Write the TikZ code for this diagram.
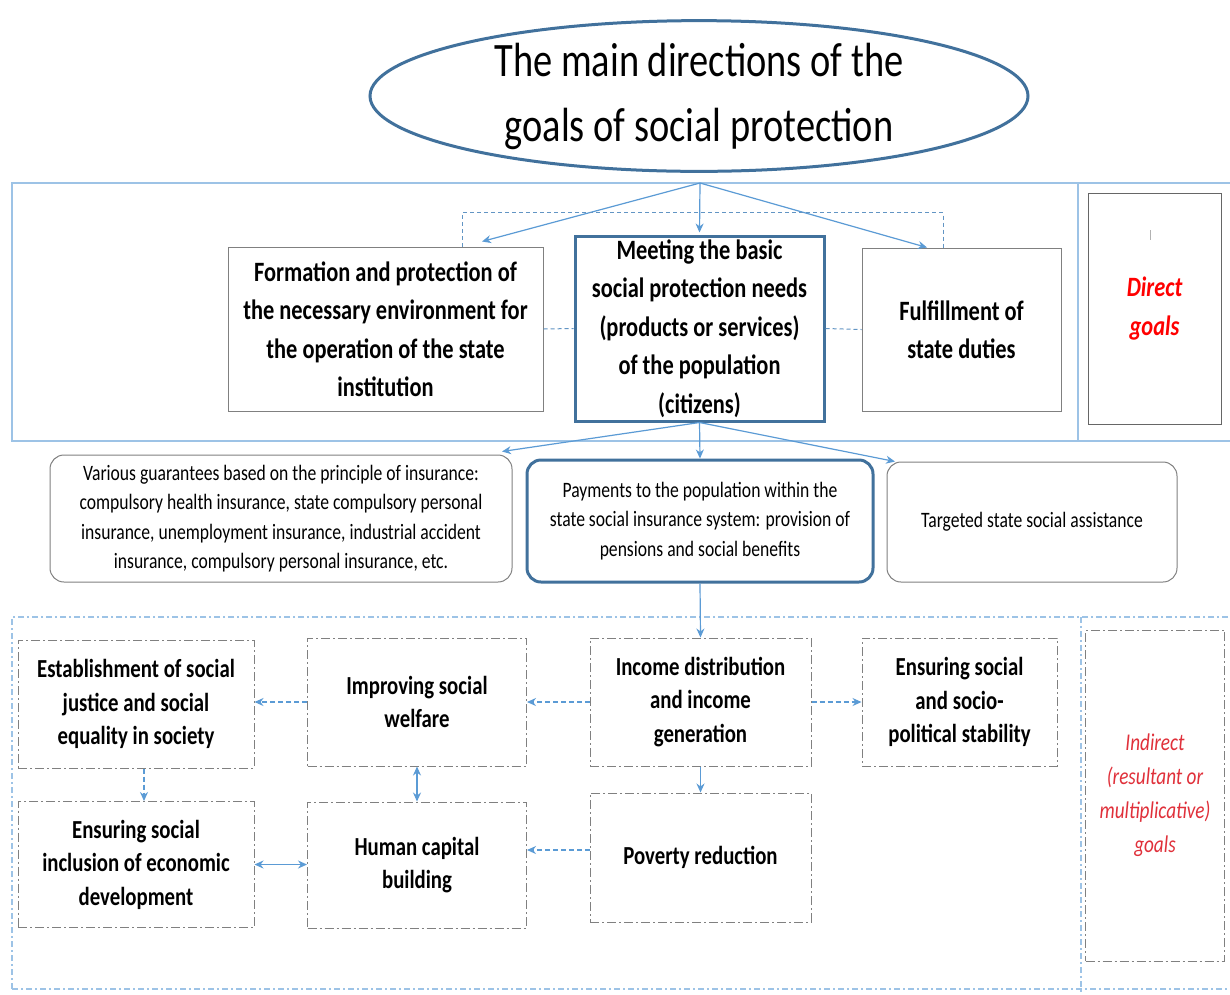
\documentclass[tikz,border=0pt]{standalone}
\usepackage{fontspec}
\setmainfont{Carlito}[FakeStretch=0.8]
\usetikzlibrary{arrows.meta,shapes.geometric}
\definecolor{dkblue}{HTML}{41719C}
\definecolor{ltblue}{HTML}{9DC3E6}
\definecolor{arrblue}{HTML}{5B9BD5}
\definecolor{boxgray}{HTML}{808080}
\definecolor{redtxt}{HTML}{FF0000}
\definecolor{indred}{HTML}{E0303A}
\newcommand\fTitle{\fontsize{48}{65}\selectfont}
\newcommand\fBig{\fontsize{28}{38.5}\selectfont\bfseries}
\newcommand\fSmall{\fontsize{22}{29.5}\selectfont}
\newcommand\fMid{\fontsize{26}{33.5}\selectfont\bfseries}
\newcommand\fInd{\fontsize{24}{34}\selectfont\itshape}
\tikzset{
  every node/.style={inner sep=0pt, align=center},
  thinbox/.style={draw=boxgray, line width=1pt, fill=white, font=\fBig},
  thickbox/.style={draw=dkblue, line width=3pt, fill=white, font=\fBig},
  roundthin/.style={draw=boxgray, line width=1pt, fill=white, rounded corners=14pt, font=\fSmall},
  roundthick/.style={draw=dkblue, line width=3pt, fill=white, rounded corners=14pt, font=\fSmall},
  dashbox/.style={draw=boxgray, line width=1pt, fill=white, dash pattern=on 9pt off 3pt on 2pt off 3pt, font=\fMid},
  secframe/.style={draw=ltblue, line width=1.5pt},
  secdash/.style={draw=ltblue, line width=1.3pt, dash pattern=on 6pt off 3pt on 2pt off 3pt},
  arr/.style={draw=arrblue, line width=1.2pt, -{Stealth[length=9pt,width=8pt]}},
  darr/.style={draw=arrblue, line width=1.2pt, {Stealth[length=9pt,width=8pt]}-{Stealth[length=9pt,width=8pt]}},
  dasharr/.style={draw=arrblue, line width=1.2pt, dash pattern=on 5pt off 3pt, -{Stealth[length=9pt,width=8pt]}},
  dashlink/.style={draw=arrblue!80!gray, line width=1pt, dash pattern=on 4pt off 3pt},
}
\begin{document}
\begin{tikzpicture}[x=1pt,y=-1pt]
\useasboundingbox (0,0) rectangle (1230,994);
\fill[white] (0,0) rectangle (1230,994);

% title
\node[ellipse, draw=dkblue, line width=3pt, minimum width=658pt, minimum height=133pt, font=\fTitle] (title) at (699,96)
  {The main directions of the\\goals of social protection};

% top section frame
\node[secframe, minimum width=1220pt, minimum height=258pt] (sec1) at (622,312) {};
\coordinate (src) at (700,183);
\draw[secframe] (1078,183) -- (1078,441);

% direct goals box
\node[draw=boxgray!80!black, line width=1pt, minimum width=133pt, minimum height=231pt,
      font=\fBig\itshape, text=redtxt] (direct) at (1154.5,308.5) {Direct\\goals};
\draw[gray!60, line width=0.8pt] (1150,230) -- (1150,240);

% top row boxes
\node[thinbox, minimum width=315pt, minimum height=164pt] (A) at (385.5,329)
  {Formation and protection of\\the necessary environment for\\the operation of the state\\institution};
\node[thickbox, minimum width=249pt, minimum height=185pt] (B) at (699.5,328.5)
  {Meeting the basic\\social protection needs\\(products or services)\\of the population\\(citizens)};
\node[thinbox, minimum width=199pt, minimum height=163pt] (C) at (961.5,329.5)
  {Fulfillment of\\state duties};

\draw[arr] (src) -- ([xshift=96.5pt, yshift=5pt]A.north);
\draw[arr] (src) -- ([yshift=2pt]B.north);
\draw[arr] (src) -- ([xshift=-34.5pt]C.north);
\draw[dashlink] ([xshift=76.5pt]A.north) -- ++(0,-34) -| ([xshift=-18.5pt]C.north);
\draw[dashlink] (A.east) -- (B.west);
\draw[dashlink] (B.east) -- (C.west);

% second row
\node[roundthin, minimum width=462pt, minimum height=127pt] (D) at (281,518.5)
  {Various guarantees based on the principle of insurance:\\compulsory health insurance, state compulsory personal\\insurance, unemployment insurance, industrial accident\\insurance, compulsory personal insurance, etc.};
\node[roundthick, minimum width=346pt, minimum height=122pt] (E) at (700,521)
  {Payments to the population within the\\state social insurance system: provision of\\pensions and social benefits};
\node[roundthin, minimum width=290pt, minimum height=120pt] (F) at (1032,522)
  {Targeted state social assistance};

\draw[arr] (B.south) -- ([xshift=221pt, yshift=3pt]D.north);
\draw[arr] (B.south) -- (E.north);
\draw[arr] (B.south) -- ([xshift=-137pt]F.north);

% bottom section frame
\node[secdash, minimum width=1220pt, minimum height=372pt] (sec2) at (622,803) {};
\draw[secdash] (1081,617) -- (1081,994);
\node[dashbox, minimum width=139pt, minimum height=331pt, font=\fInd, text=indred] (indirect) at (1155,795.5)
  {Indirect\\(resultant or\\multiplicative)\\goals};

% bottom boxes
\node[dashbox, minimum width=236pt, minimum height=128pt] (G) at (136,704)
  {Establishment of social\\justice and social\\equality in society};
\node[dashbox, minimum width=219pt, minimum height=128pt] (H) at (417,702)
  {Improving social\\welfare};
\node[dashbox, minimum width=221pt, minimum height=128pt] (I) at (700.5,702)
  {Income distribution\\and income\\generation};
\node[dashbox, minimum width=195pt, minimum height=128pt] (J) at (959.5,702)
  {Ensuring social\\and socio-\\political stability};
\node[dashbox, minimum width=236pt, minimum height=126pt] (K) at (136,864.5)
  {Ensuring social\\inclusion of economic\\development};
\node[dashbox, minimum width=219pt, minimum height=126pt] (L) at (417,865)
  {Human capital\\building};
\node[dashbox, minimum width=221pt, minimum height=129pt] (M) at (700.5,857.5)
  {Poverty reduction};

\draw[arr] (E.south) -- (I.north);
\draw[dasharr] (I.west) -- (H.east);
\draw[dasharr] (H.west) -- (H.west -| G.east);
\draw[dasharr] (I.east) -- (J.west);
\draw[arr] (I.south) -- (M.north);
\coordinate (m1) at ([yshift=7.5pt]M.west);
\draw[dasharr] (m1) -- (m1 -| L.east);
\draw[dasharr] ([xshift=8pt]G.south) -- ([xshift=8pt]K.north);
\draw[darr] (H.south) -- (L.north);
\draw[darr] (K.east) -- (K.east -| L.west);
\end{tikzpicture}
\end{document}
